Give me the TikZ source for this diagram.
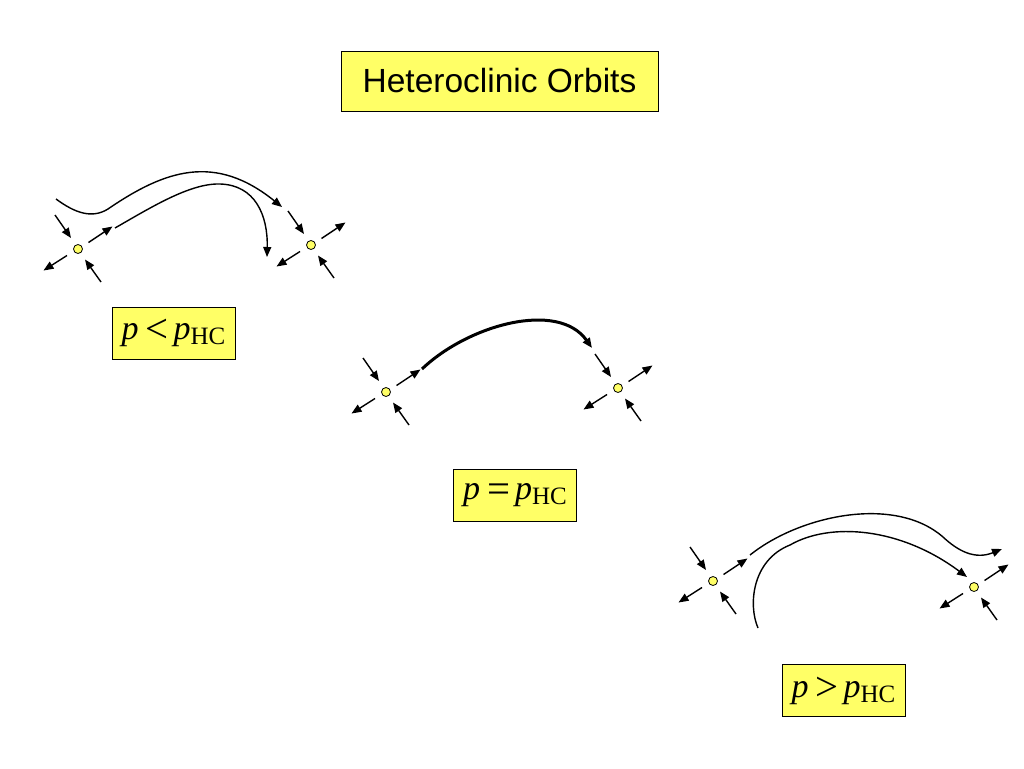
\documentclass[tikz,border=0pt]{standalone}
\usepackage{fontspec}
\setmainfont{Liberation Serif}
\newfontfamily\titlefont{Liberation Sans}
\usetikzlibrary{arrows.meta}
\definecolor{boxyellow}{RGB}{255,255,102}
\newcommand{\pHC}{\textit{p}{\fontsize{25}{30}\selectfont\raisebox{-5pt}{HC}}}
\newcommand{\rel}[1]{\hspace{7pt}\raisebox{-3pt}{\scalebox{1.2}{#1}}\hspace{5pt}}
\tikzset{
  flow/.style={line width=1.4pt,-{Triangle[length=10pt,width=8pt]}},
  fixpt/.style={circle,draw,line width=0.8pt,fill=boxyellow,minimum size=9pt,inner sep=0pt},
  labelbox/.style={draw,line width=0.8pt,fill=boxyellow,minimum width=123pt,minimum height=52pt,inner sep=0pt,font=\fontsize{34}{40}\selectfont}
}

\begin{document}
\begin{tikzpicture}[x=1pt,y=-1pt]
        %white page, fixes the size
        \fill[white] (0,0) rectangle (1024,768);

        %title
        \node[draw,line width=0.8pt,fill=boxyellow,minimum width=317pt,minimum height=60pt,inner sep=0pt,
              font=\titlefont\fontsize{33.5}{40}\selectfont] (title) at (499.5,81) {Heteroclinic Orbits};

        %the saddle points
        \node[fixpt] (a1) at (78,249) {};
        \node[fixpt] (b1) at (311,245) {};
        \node[fixpt] (a2) at (386,392) {};
        \node[fixpt] (b2) at (618,388) {};
        \node[fixpt] (a3) at (713,581) {};
        \node[fixpt] (b3) at (974,587) {};

        %stable and unstable directions round each saddle
        \foreach \s in {a1,b1,a2,b2,a3,b3}{
            \begin{scope}[shift={(\s)}]
                \draw[flow] (23,33) -- (7,10.5);
                \draw[flow] (10.5,-6.5) -- (34.5,-22.5);
                \draw[flow] (-11,6.5) -- (-34.5,21.5);
            \end{scope}
        }
        \foreach \s in {a1,b1,a2,b2,a3}
            \draw[flow,shift={(\s)}] (-23,-34) -- (-7,-11);

        %p < p_HC
        \draw[flow] (56,199) .. controls (75,213) and (92,219) .. (108,209)
            .. controls (165,170) and (215,153) .. (282,207);
        \draw[flow] (115,228) .. controls (150,208) and (190,183) .. (220,184)
            .. controls (255,185) and (268,215) .. (267,257);
        \node[labelbox] (less) at (173.5,333) {\textit{p}\rel{<}\pHC};

        %p = p_HC, the connection
        \draw[flow,line width=3pt] (422,369) .. controls (468,325) and (558,300) .. (592,348);
        \node[labelbox] (equal) at (515,495) {\textit{p}\rel{=}\pHC};

        %p > p_HC
        \draw[flow] (750,555) .. controls (800,515) and (895,495) .. (943,537)
            .. controls (958,551) and (975,560) .. (1002,549);
        \draw[flow] (758,628) .. controls (748,605) and (752,560) .. (790,545)
            .. controls (830,522) and (900,527) .. (967,577);
        \node[labelbox] (greater) at (843.5,690.5) {\textit{p}\rel{>}\pHC};
    \end{tikzpicture}
\end{document}
